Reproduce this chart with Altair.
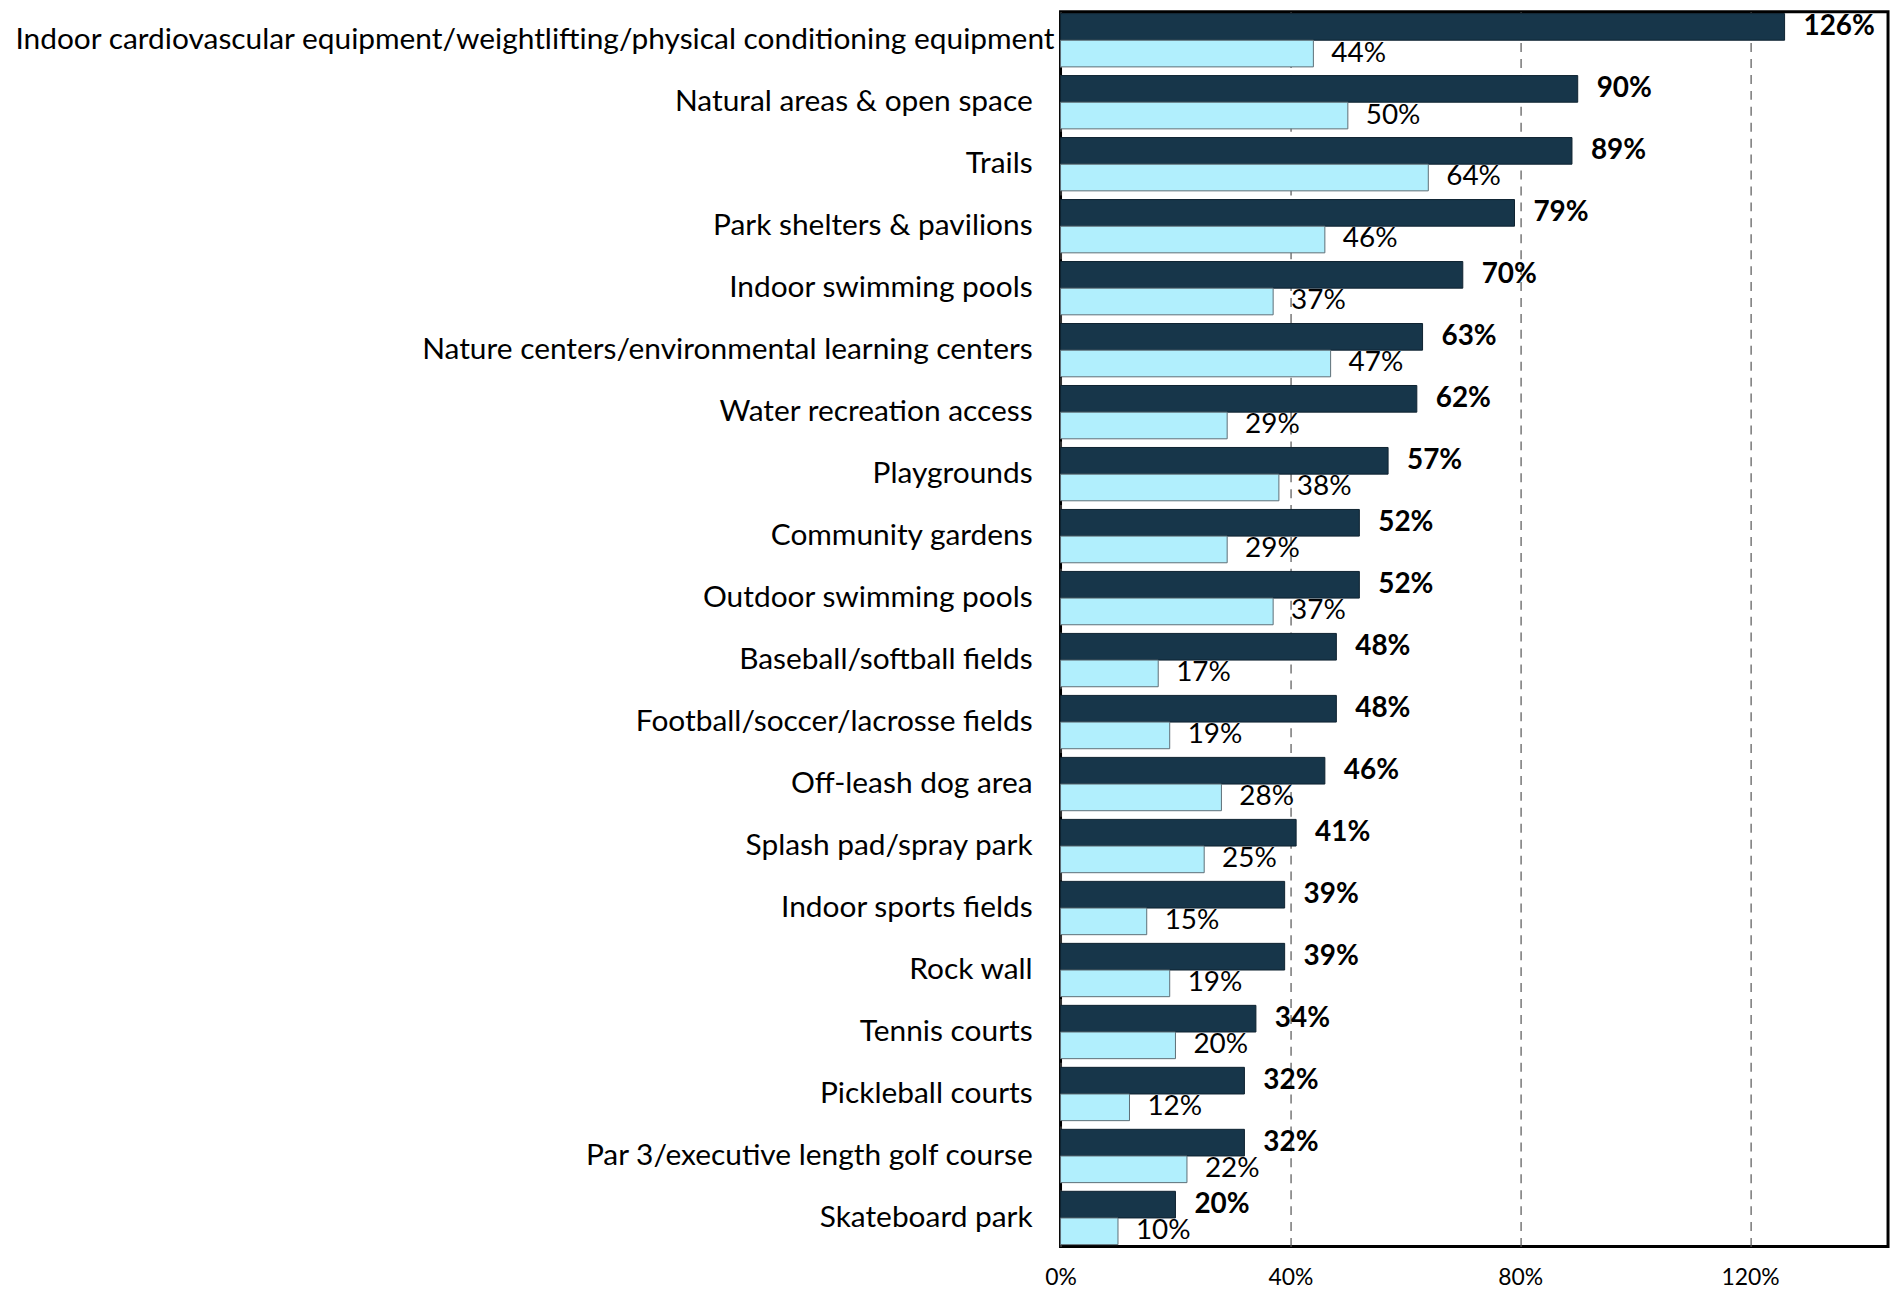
import altair as alt
import pandas as pd

categories = [
    "Indoor cardiovascular equipment/weightlifting/physical conditioning equipment",
    "Natural areas & open space",
    "Trails",
    "Park shelters & pavilions",
    "Indoor swimming pools",
    "Nature centers/environmental learning centers\u00a0",
    "Water recreation access",
    "Playgrounds",
    "Community gardens",
    "Outdoor swimming pools",
    "Baseball/softball fields",
    "Football/soccer/lacrosse fields",
    "Off-leash dog area",
    "Splash pad/spray park",
    "Indoor sports fields",
    "Rock wall\u00a0",
    "Tennis courts",
    "Pickleball courts",
    "Par 3/executive length golf course",
    "Skateboard park",
]
dark_values = [126, 90, 89, 79, 70, 63, 62, 57, 52, 52, 48, 48, 46, 41, 39, 39, 34, 32, 32, 20]
light_values = [44, 50, 64, 46, 37, 47, 29, 38, 29, 37, 17, 19, 28, 25, 15, 19, 20, 12, 22, 10]
series = ["A", "B"]
tick_values = [0, 40, 80, 120]

rows = []
for c, d, l in zip(categories, dark_values, light_values):
    rows.append({"category": c, "series": series[0], "value": d})
    rows.append({"category": c, "series": series[1], "value": l})
df = pd.DataFrame(rows)
cat_df = pd.DataFrame({"category": categories})

FONT = "Lato"
ysc = alt.Scale(domain=categories, paddingInner=0.14, paddingOuter=0.03)
xsc = alt.Scale(domain=[0, 144], nice=False, zero=True)
yoff = alt.YOffset("series:N", scale=alt.Scale(domain=series, paddingInner=0, paddingOuter=0))

base = alt.Chart(df)

bars = base.mark_bar(strokeWidth=1).encode(
    y=alt.Y("category:N", scale=ysc, axis=None, sort=categories),
    yOffset=yoff,
    x=alt.X("value:Q", scale=xsc, title=None,
            axis=alt.Axis(values=tick_values, labelExpr="datum.value + '%'",
                          domain=False, ticks=False, labelPadding=20, labelFlush=False,
                          labelFont=FONT, labelFontSize=23, labelColor="black",
                          grid=True, gridDash=[9, 7], gridColor="#555555", gridWidth=1.2)),
    color=alt.Color("series:N", scale=alt.Scale(domain=series, range=["#17364A", "#B1EFFD"]), legend=None),
    stroke=alt.Stroke("series:N", scale=alt.Scale(domain=series, range=["#0E2230", "#5E6E76"]), legend=None),
)

lab_dark = base.transform_filter(alt.datum.series == series[0]).transform_calculate(
    label="datum.value + '%'"
).mark_text(align="left", baseline="middle", dx=19, font=FONT, fontSize=28, fontWeight="bold", color="black").encode(
    y=alt.Y("category:N", scale=ysc, axis=None, sort=categories),
    yOffset=yoff,
    x=alt.X("value:Q", scale=xsc),
    text="label:N",
)
lab_light = base.transform_filter(alt.datum.series == series[1]).transform_calculate(
    label="datum.value + '%'"
).mark_text(align="left", baseline="middle", dx=18, font=FONT, fontSize=28, color="black").encode(
    y=alt.Y("category:N", scale=ysc, axis=None, sort=categories),
    yOffset=yoff,
    x=alt.X("value:Q", scale=xsc),
    text="label:N",
)

cat_base = alt.Chart(cat_df)
cat_first = cat_base.transform_filter(alt.datum.category == categories[0]).mark_text(
    align="right", baseline="middle", font=FONT, fontSize=30, color="black"
).encode(y=alt.Y("category:N", scale=ysc, axis=None, sort=categories), x=alt.value(-6), text="category:N")
cat_rest = cat_base.transform_filter(alt.datum.category != categories[0]).mark_text(
    align="right", baseline="middle", font=FONT, fontSize=30, color="black"
).encode(y=alt.Y("category:N", scale=ysc, axis=None, sort=categories), x=alt.value(-28), text="category:N")

chart = alt.layer(bars, lab_dark, lab_light, cat_first, cat_rest).properties(
    width=831, height=1240,
    autosize=alt.AutoSizeParams(type="none"),
    padding={"left": 1057, "top": 1, "right": 6, "bottom": 46},
).configure_view(stroke="black", strokeWidth=3)

chart.save("out.html", embed_options={"renderer": "svg", "actions": False})
